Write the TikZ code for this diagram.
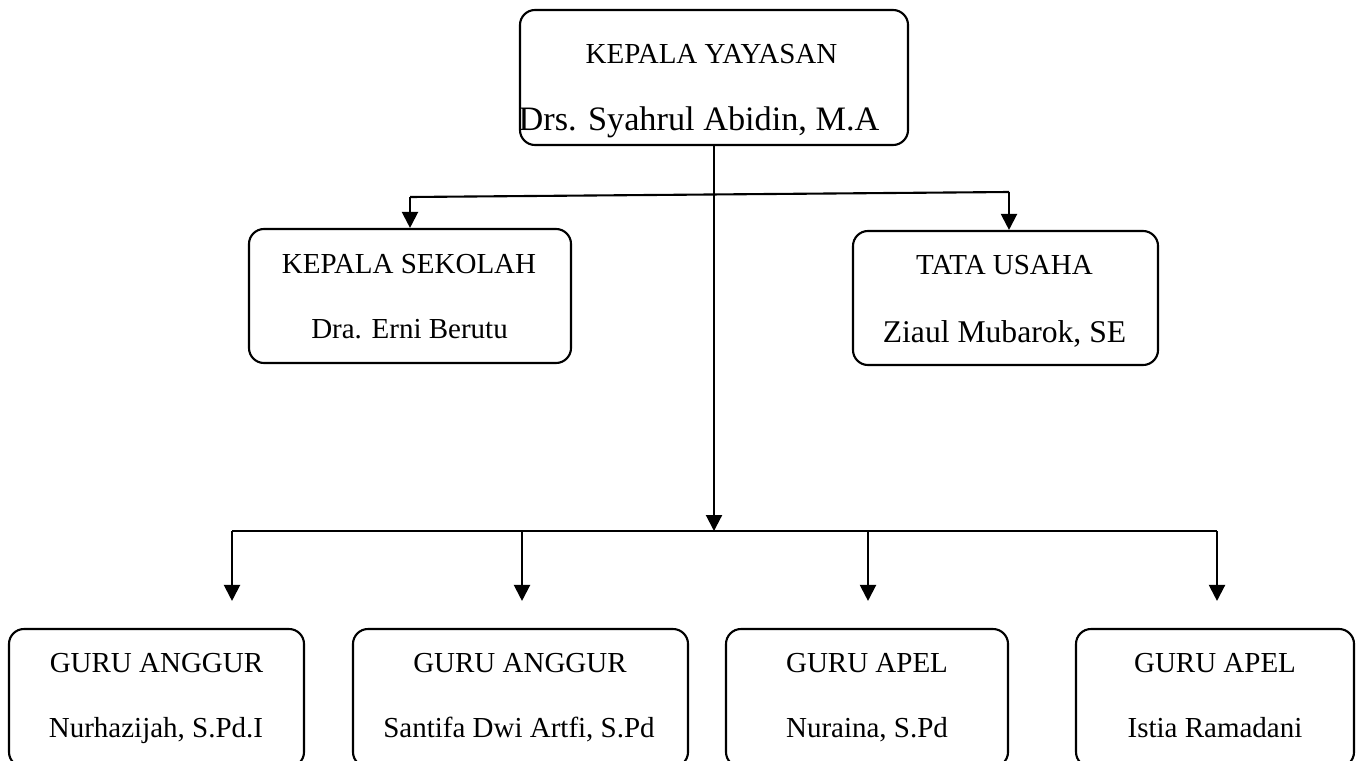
\documentclass[tikz,border=0pt]{standalone}
\usepackage{fontspec}
\setmainfont{Liberation Serif}
\usetikzlibrary{arrows.meta}

\begin{document}
\begin{tikzpicture}
	[x=0.2mm, y=-0.2mm, line width=1.2pt,
	kotak/.style={rectangle,draw,rounded corners=3mm,inner sep=0pt,minimum height=26.8mm},
	teks/.style={anchor=base,inner sep=0pt,font=\fontsize{16.5}{20}\selectfont},
	panah/.style={-{Triangle[length=3.2mm,width=3.2mm]}}]
	\useasboundingbox (0,0) rectangle (1356,760);
	% kotak
	\path node (yayasan)   at (714,77.5)  [kotak,minimum width=77.6mm,minimum height=27mm] {}
		  node (sekolah)   at (410,296)   [kotak,minimum width=64.4mm] {}
		  node (tatausaha) at (1005.5,298) [kotak,minimum width=61mm] {}
		  node (guru1)     at (156.5,698) [kotak,minimum width=59mm,minimum height=27.6mm] {}
		  node (guru2)     at (520.5,698) [kotak,minimum width=67mm,minimum height=27.6mm] {}
		  node (guru3)     at (867,698)   [kotak,minimum width=56.4mm,minimum height=27.6mm] {}
		  node (guru4)     at (1215,698)  [kotak,minimum width=55.6mm,minimum height=27.6mm] {};
	% teks
	\path node (yayasanA)   at (711.5,63)  [teks] {KEPALA YAYASAN}
		  node (yayasanB)   at (699,130)   [teks,font=\fontsize{19.5}{24}\selectfont] {Drs. Syahrul Abidin, M.A}
		  node (sekolahA)   at (409,273)   [teks] {KEPALA SEKOLAH}
		  node (sekolahB)   at (409.5,338) [teks] {Dra. Erni Berutu}
		  node (tatausahaA) at (1004.5,274) [teks] {TATA USAHA}
		  node (tatausahaB) at (1004.5,342) [teks,font=\fontsize{18}{22}\selectfont] {Ziaul Mubarok, SE}
		  node (guru1A)     at (156.5,672) [teks] {GURU ANGGUR}
		  node (guru1B)     at (156,737)   [teks] {Nurhazijah, S.Pd.I}
		  node (guru2A)     at (520,672)   [teks] {GURU ANGGUR}
		  node (guru2B)     at (519,737)   [teks] {Santifa Dwi Artfi, S.Pd}
		  node (guru3A)     at (867,672)   [teks] {GURU APEL}
		  node (guru3B)     at (867,737)   [teks] {Nuraina, S.Pd}
		  node (guru4A)     at (1215,672)  [teks] {GURU APEL}
		  node (guru4B)     at (1215,737)  [teks] {Istia Ramadani};
	% garis
	\coordinate (kiri)  at (410,197);
	\coordinate (kanan) at (1009,192);
	\coordinate (bus)   at (714,531);
	\coordinate (d1) at (232,531);
	\coordinate (d2) at (522,531);
	\coordinate (d3) at (868,531);
	\coordinate (d4) at (1217,531);
	\draw (kiri) -- (kanan);
	\draw[panah] (kiri) -- (sekolah.north);
	\draw[panah] (kanan) -- (kanan |- tatausaha.north);
	\draw[panah] (yayasan.south) -- (bus);
	\draw (d1) -- (d4);
	\draw[panah,shorten >=5.4mm] (d1) -- (d1 |- guru1.north);
	\draw[panah,shorten >=5.4mm] (d2) -- (d2 |- guru2.north);
	\draw[panah,shorten >=5.4mm] (d3) -- (d3 |- guru3.north);
	\draw[panah,shorten >=5.4mm] (d4) -- (d4 |- guru4.north);
\end{tikzpicture}
\end{document}
